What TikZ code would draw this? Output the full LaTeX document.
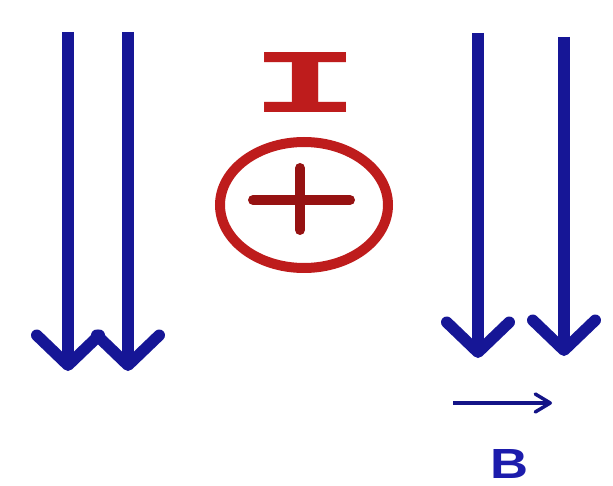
\documentclass[tikz,border=0pt]{standalone}
\usepackage{fontspec}
\usepackage{graphicx}
\usetikzlibrary{arrows.meta}
\setsansfont{Liberation Sans}
\newfontfamily\letterfont{Liberation Mono}
\definecolor{fieldblue}{RGB}{22,22,150}
\definecolor{labelblue}{RGB}{28,28,172}
\definecolor{currentred}{RGB}{190,28,28}
\definecolor{crossred}{RGB}{150,18,18}

\begin{document}
\begin{tikzpicture}[x=0.02cm, y=-0.02cm,
  fieldline/.style={draw=fieldblue, line width=0.23cm,
    -{Straight Barb[length=0.6cm, width=1.25cm, round]}},
  vecarrow/.style={draw=fieldblue!90!black, line width=0.07cm,
    -{Straight Barb[length=0.3cm, width=0.36cm, round]}},
  redline/.style={line width=0.2cm, line cap=round}]
\useasboundingbox (0,0) rectangle (613,486);

% Field lines, left pair
\coordinate (l1top) at (68,32);
\coordinate (l1end) at (68,371);
\coordinate (l2top) at (128,32);
\coordinate (l2end) at (128,371);
\draw[fieldline] (l1top) -- (l1end);
\draw[fieldline] (l2top) -- (l2end);

% Field lines, right pair
\coordinate (r1top) at (478,33);
\coordinate (r1end) at (478,358);
\coordinate (r2top) at (564,37);
\coordinate (r2end) at (564,356);
\draw[fieldline] (r1top) -- (r1end);
\draw[fieldline] (r2top) -- (r2end);

% Current label
\node[inner sep=0pt, text=currentred] (I) at (305,83)
  {\resizebox{2.2cm}{1.2cm}{\letterfont\bfseries I}};

% Current into the page
\draw[redline, draw=currentred] (304,205) ellipse (84 and 63);
\draw[redline, draw=crossred] (253,200) -- (350,200);
\draw[redline, draw=crossred] (300,168) -- (300,230);

% Field vector B
\node[inner sep=0pt, text=labelblue] (B) at (509,464)
  {\resizebox{0.76cm}{0.58cm}{\sffamily\bfseries B}};
\coordinate (vecstart) at (453,403);
\coordinate (vecend) at (552,403);
\draw[vecarrow] (vecstart) -- (vecend);
\end{tikzpicture}
\end{document}
